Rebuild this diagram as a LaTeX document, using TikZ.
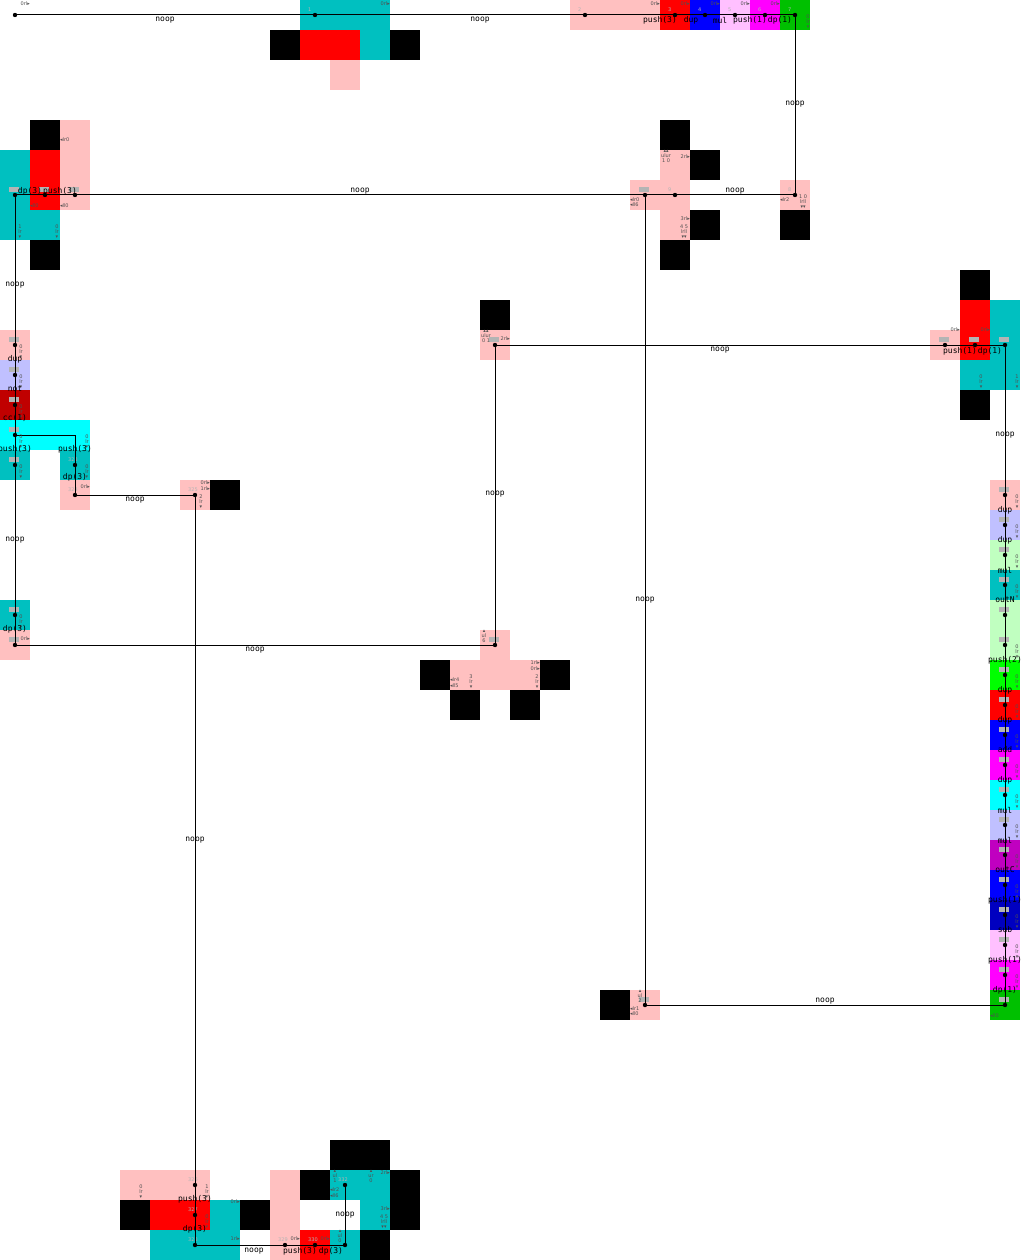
\documentclass[tikz,border=0pt]{standalone}
\usepackage{fontspec}
\usetikzlibrary{calc}
\newfontfamily\annfont{DejaVu Sans}
\newfontfamily\labfont{DejaVu Sans Mono}
\definecolor{lr}{HTML}{FFC0C0}
\definecolor{rr}{HTML}{FF0000}
\definecolor{dr}{HTML}{C00000}
\definecolor{dc}{HTML}{00C0C0}
\definecolor{cc}{HTML}{00FFFF}
\definecolor{bb}{HTML}{0000FF}
\definecolor{db}{HTML}{0000C0}
\definecolor{lb}{HTML}{C0C0FF}
\definecolor{lm}{HTML}{FFC0FF}
\definecolor{mm}{HTML}{FF00FF}
\definecolor{dm}{HTML}{C000C0}
\definecolor{gg}{HTML}{00FF00}
\definecolor{dg}{HTML}{00C000}
\definecolor{lg}{HTML}{C0FFC0}
\definecolor{kk}{HTML}{000000}
\definecolor{gnum}{RGB}{180,180,180}
\definecolor{annc}{RGB}{80,80,80}
\tikzset{
  trace/.style={draw=black,line width=1pt},
  labst/.style={font={\labfont\fontsize{8}{8}\selectfont},inner sep=0pt,text=black},
  annst/.style={font={\annfont\fontsize{5}{5}\selectfont},inner sep=0pt,text=annc},
  gnumst/.style={font={\annfont\fontsize{5}{5}\selectfont},inner sep=0pt,text=gnum},
}
\newcounter{nn}
\newcommand\lab[3]{\stepcounter{nn}\node[labst] (lab\arabic{nn}) at (#1,#2) {#3};}
\newcommand\annR[3]{\stepcounter{nn}\node[annst,anchor=east] (an\arabic{nn}) at (#1,#2) {#3};}
\newcommand\annL[3]{\stepcounter{nn}\node[annst,anchor=west] (an\arabic{nn}) at (#1,#2) {#3};}
\newcommand\annV[3]{\stepcounter{nn}\node[annst,anchor=north,align=center] (an\arabic{nn}) at (#1,#2) {#3};}
\newcommand\gn[2]{\stepcounter{nn}\node[gnumst,anchor=west] (gn\arabic{nn}) at ($(#1)+(-7,-5)$) {#2};}
\begin{document}
\begin{tikzpicture}[x=1pt,y=-1pt]
\fill[white] (0,0) rectangle (1020,1260);
\useasboundingbox (0,0) rectangle (1020,1260);
% codels
\foreach \c/\r/\k in {
 10/0/dc,11/0/dc,12/0/dc,19/0/lr,20/0/lr,21/0/lr,22/0/rr,23/0/bb,24/0/lm,25/0/mm,26/0/dg,
 9/1/kk,10/1/rr,11/1/rr,12/1/dc,13/1/kk,
 11/2/lr,
 1/4/kk,2/4/lr,22/4/kk,
 0/5/dc,1/5/rr,2/5/lr,22/5/lr,23/5/kk,
 0/6/dc,1/6/rr,2/6/lr,21/6/lr,22/6/lr,26/6/lr,
 0/7/dc,1/7/dc,22/7/lr,23/7/kk,26/7/kk,
 1/8/kk,22/8/kk,
 32/9/kk,
 16/10/kk,32/10/rr,33/10/dc,
 0/11/lr,16/11/lr,31/11/lr,32/11/rr,33/11/dc,
 0/12/lb,32/12/dc,33/12/dc,
 0/13/dr,32/13/kk,
 0/14/cc,1/14/cc,2/14/cc,
 0/15/dc,2/15/dc,
 2/16/lr,6/16/lr,7/16/kk,33/16/lr,
 33/17/lb,33/18/lg,33/19/dc,
 0/20/dc,33/20/lg,
 0/21/lr,16/21/lr,33/21/lg,
 14/22/kk,15/22/lr,16/22/lr,17/22/lr,18/22/kk,33/22/gg,
 15/23/kk,17/23/kk,33/23/rr,
 33/24/bb,33/25/mm,33/26/cc,33/27/lb,33/28/dm,33/29/bb,33/30/db,33/31/lm,33/32/mm,
 20/33/kk,21/33/lr,33/33/dg,
 11/38/kk,12/38/kk,
 4/39/lr,5/39/lr,6/39/lr,9/39/lr,10/39/kk,11/39/dc,12/39/dc,13/39/kk,
 4/40/kk,5/40/rr,6/40/rr,7/40/dc,8/40/kk,9/40/lr,12/40/dc,13/40/kk,
 5/41/dc,6/41/dc,7/41/dc,9/41/lr,10/41/rr,11/41/dc,12/41/kk}
 {\fill[\k] (\c*30,\r*30) rectangle ++(30,30);}
% trace points
\coordinate (a0) at (15,15); \coordinate (a1) at (315,15); \coordinate (a2) at (585,15);
\coordinate (a3) at (675,15); \coordinate (a4) at (705,15); \coordinate (a5) at (735,15);
\coordinate (a6) at (765,15); \coordinate (a7) at (795,15);
\coordinate (b8) at (795,195); \coordinate (b9) at (675,195); \coordinate (bA) at (645,195);
\coordinate (bB) at (75,195); \coordinate (bC) at (45,195); \coordinate (bD) at (15,195);
\coordinate (c1) at (15,345); \coordinate (c2) at (15,375); \coordinate (c3) at (15,405);
\coordinate (c4) at (15,435); \coordinate (c5) at (15,465); \coordinate (c6) at (15,615);
\coordinate (c7) at (15,645);
\coordinate (d0) at (75,435); \coordinate (d1) at (75,465); \coordinate (d2) at (75,495);
\coordinate (d3) at (195,495);
\coordinate (e1) at (195,1185); \coordinate (e2) at (195,1215); \coordinate (e3) at (195,1245);
\coordinate (e4) at (285,1245); \coordinate (e5) at (315,1245); \coordinate (e6) at (345,1245);
\coordinate (e7) at (345,1185);
\coordinate (f1) at (495,645); \coordinate (f2) at (495,345);
\coordinate (g1) at (945,345); \coordinate (g2) at (975,345); \coordinate (g3) at (1005,345);
\foreach \r in {16,...,33} {\coordinate (h\r) at (1005,\r*30+15);}
\coordinate (i1) at (645,1005);
% gray step markers
\foreach \p in {bA,bB,bC,bD,c1,c2,c3,c4,c5,c6,c7,f1,f2,g1,g2,g3,h16,h17,h18,h19,h20,h21,h22,h23,h24,h25,h26,h27,h28,h29,h30,h31,h32,h33,i1}
 {\fill[gnum] ($(\p)+(-6,-8)$) rectangle ($(\p)+(4,-3)$);}
\gn{a1}{1}\gn{a2}{2}\gn{a3}{3}\gn{a4}{4}\gn{a5}{5}\gn{a6}{6}\gn{a7}{7}\gn{b8}{8}\gn{b9}{9}
\gn{d1}{323}\gn{d2}{324}\gn{d3}{325}\gn{e1}{326}\gn{e2}{327}\gn{e3}{328}\gn{e4}{329}\gn{e5}{330}\gn{e7}{332}
% trace lines
\draw[trace] (a0) -- (a7) -- (b8) -- (bD) -- (c7) -- (f1) -- (f2) -- (g3) -- (h33) -- (i1) -- (bA);
\draw[trace] (c4) -- (d0) -- (d2) -- (d3) -- (e3) -- (e6) -- (e7);
\foreach \p in {a0,a1,a2,a3,a4,a5,a6,a7,b8,b9,bA,bB,bC,bD,c1,c2,c3,c4,c5,c6,c7,d1,d2,d3,e1,e2,e3,e4,e5,e6,e7,f1,f2,g1,g2,g3,h16,h17,h18,h19,h20,h21,h22,h23,h24,h25,h26,h27,h28,h29,h30,h31,h32,h33,i1}
 {\fill (\p) circle (2.2pt);}
% annotations
\annR{30}{4}{0rl▸}\annR{390}{4}{0rl▸}\annR{660}{4}{0rl▸}\annR{690}{4}{0rl▸}
\annR{720}{4}{0rl▸}\annR{750}{4}{0rl▸}\annR{780}{4}{0rl▸}\annV{808}{15}{0\\lr\\▾}
\annL{60}{140}{◂lr0}\annL{30}{206}{◂ll0}\annL{60}{206}{◂ll0}
\annV{20}{225}{1\\lr\\▾}\annV{57}{225}{0\\lr\\▾}
\annV{666}{150}{▴▴\\ulur\\1 0}\annR{690}{157}{2rl▸}
\annL{630}{200}{◂lr0}\annL{630}{205}{◂ll6}
\annR{690}{219}{3rl▸}\annV{684}{225}{4 5\\lrll\\▾▾}
\annL{780}{200}{◂lr2}\annV{803}{195}{1 0\\lrll\\▾▾}
\foreach \yy in {345,375,405,435,465,615} {\annV{21}{\yy}{0\\lr\\▾}}
\annV{87}{435}{0\\lr\\▾}\annV{87}{465}{0\\lr\\▾}\annR{90}{487}{0rl▸}
\annR{210}{483}{0rl▸}\annR{210}{489}{1rl▸}\annV{201}{495}{2\\lr\\▾}
\annR{30}{639}{0rl▸}
\annV{486}{330}{▴▴\\ulur\\0 1}\annR{510}{339}{2rl▸}
\annV{484}{630}{▴\\ul\\6}
\annR{540}{663}{1rl▸}\annR{540}{669}{0rl▸}\annV{537}{675}{2\\lr\\▾}
\annL{450}{680}{◂lr4}\annL{450}{686}{◂ll5}\annV{471}{675}{3\\lr\\▾}
\annR{960}{330}{0rl▸}\annR{990}{330}{0rl▸}\annV{981}{375}{0\\lr\\▾}\annV{1017}{375}{1\\lr\\▾}
\foreach \r in {16,17,18,19,21,22,23,24,25,26,27,28,29,30,31,32} {\annV{1017}{\r*30+15}{0\\lr\\▾}}
\annL{990}{1016}{◂ll0}
\annV{640}{990}{▴\\ul\\2}\annL{630}{1009}{◂lr1}\annL{630}{1014}{◂ll0}
\annV{141}{1185}{0\\lr\\▾}\annV{207}{1185}{1\\lr\\▾}\annR{240}{1202}{0rl▸}
\annV{207}{1215}{0\\lr\\▾}\annR{240}{1239}{1rl▸}\annR{300}{1239}{0rl▸}\annR{330}{1239}{0rl▸}
\annV{340}{1230}{▴\\ul\\0}\annV{335}{1170}{▴\\ul\\1}\annV{371}{1170}{▴\\ur\\0}\annR{390}{1173}{2rl▸}
\annL{330}{1190}{◂lr2}\annL{330}{1196}{◂ll6}\annR{390}{1209}{3rl▸}\annV{384}{1215}{4 5\\lrll\\▾▾}
% operation labels
\lab{165}{20}{noop}\lab{480}{20}{noop}\lab{660}{20}{push(3)}\lab{691}{20}{dup}
\lab{720}{20}{mul}\lab{750}{20}{push(1)}\lab{780}{20}{dp(1)}
\lab{795}{104}{noop}\lab{735}{191}{noop}\lab{360}{191}{noop}\lab{60}{191}{push(3)}\lab{30}{191}{dp(3)}
\lab{15}{285}{noop}\lab{15}{359}{dup}\lab{15}{389}{not}\lab{15}{418}{cc(1)}
\lab{15}{449}{push(3)}\lab{75}{449}{push(3)}\lab{75}{477}{dp(3)}\lab{135}{500}{noop}
\lab{15}{540}{noop}\lab{15}{629}{dp(3)}\lab{255}{650}{noop}
\lab{495}{494}{noop}\lab{720}{350}{noop}\lab{960}{351}{push(1)}\lab{990}{351}{dp(1)}
\lab{1005}{435}{noop}
\lab{1005}{510}{dup}\lab{1005}{540}{dup}\lab{1005}{570}{mul}\lab{1005}{600}{outN}
\lab{1005}{660}{push(2)}\lab{1005}{690}{dup}\lab{1005}{720}{dup}\lab{1005}{750}{add}
\lab{1005}{780}{dup}\lab{1005}{810}{mul}\lab{1005}{840}{mul}\lab{1005}{870}{outC}
\lab{1005}{900}{push(1)}\lab{1005}{930}{sub}\lab{1005}{960}{push(1)}\lab{1005}{990}{dp(1)}
\lab{645}{600}{noop}\lab{825}{1001}{noop}\lab{195}{840}{noop}
\lab{195}{1199}{push(3)}\lab{195}{1229}{dp(3)}\lab{254}{1251}{noop}
\lab{300}{1251}{push(3)}\lab{331}{1251}{dp(3)}\lab{345}{1215}{noop}
\end{tikzpicture}
\end{document}
